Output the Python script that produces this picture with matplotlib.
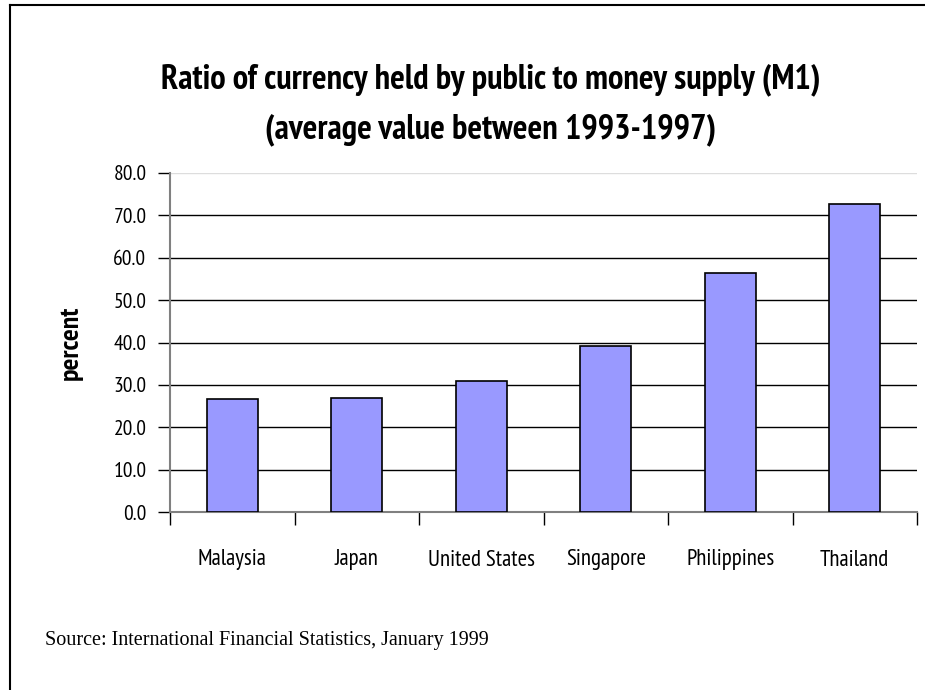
import matplotlib
matplotlib.use('Agg')
import matplotlib.pyplot as plt
from matplotlib.lines import Line2D

# данные
countries = ['Malaysia', 'Japan', 'United States', 'Singapore', 'Philippines', 'Thailand']
ratio = [26.6, 27.0, 31.0, 39.2, 56.4, 72.6]
yticks = [0, 10, 20, 30, 40, 50, 60, 70, 80]

narrow = ['PT Sans Narrow', 'Archivo Narrow', 'DejaVu Sans']

fig = plt.figure(figsize=(9.25, 6.9), dpi=100)
ax = fig.add_axes([170/925, 1-512/690, 747/925, 339/690])

x = list(range(len(countries)))
ax.bar(x, ratio, width=0.41, color='#9999ff', edgecolor='black', linewidth=1.2, zorder=3)
ax.set_xlim(-0.5, len(countries) - 0.5)
ax.set_ylim(0, 80)

# сетка
for v in yticks[1:]:
    ax.axhline(v, color='black' if v < 80 else '#dddddd', linewidth=1, zorder=1)

ax.set_yticks(yticks)
ax.set_yticklabels(['%.1f' % v for v in yticks], fontfamily=narrow, fontsize=15.5)
ax.set_xticks([i - 0.5 for i in range(len(countries) + 1)])
ax.set_xticklabels([])
ax.set_xticks(x, minor=True)
ax.set_xticklabels(countries, minor=True, fontfamily=narrow, fontsize=16.5)
ax.tick_params(axis='x', which='major', direction='out', length=9, width=1, color='black')
ax.tick_params(axis='x', which='minor', length=0, pad=27)
ax.tick_params(axis='y', direction='out', length=9, width=1, color='black', pad=8)

for s in ['top', 'right']:
    ax.spines[s].set_visible(False)
ax.spines['left'].set_color('#808080')
ax.spines['left'].set_linewidth(1.5)
ax.spines['bottom'].set_color('#808080')
ax.spines['bottom'].set_linewidth(1.5)

ax.set_ylabel('percent', fontfamily=narrow, fontweight='bold', fontsize=20, labelpad=22)

fig.text(491/925, 1-80/690, 'Ratio of currency held by public to money supply (M1)',
         ha='center', va='center', fontfamily=narrow, fontweight='bold', fontsize=24.8)
fig.text(491/925, 1-130/690, '(average value between 1993-1997)',
         ha='center', va='center', fontfamily=narrow, fontweight='bold', fontsize=24.8)

fig.text(45/925, 1-640/690, 'Source: International Financial Statistics, January 1999',
         ha='left', va='center', fontfamily=['Liberation Serif', 'DejaVu Serif'], fontsize=14.5)

# рамка
fig.add_artist(Line2D([10/925, 10/925], [0, 1-5/690], transform=fig.transFigure, color='black', linewidth=1.5))
fig.add_artist(Line2D([10/925, 1], [1-5/690, 1-5/690], transform=fig.transFigure, color='black', linewidth=1.5))

fig.savefig('out.png', dpi=100, facecolor='white')
